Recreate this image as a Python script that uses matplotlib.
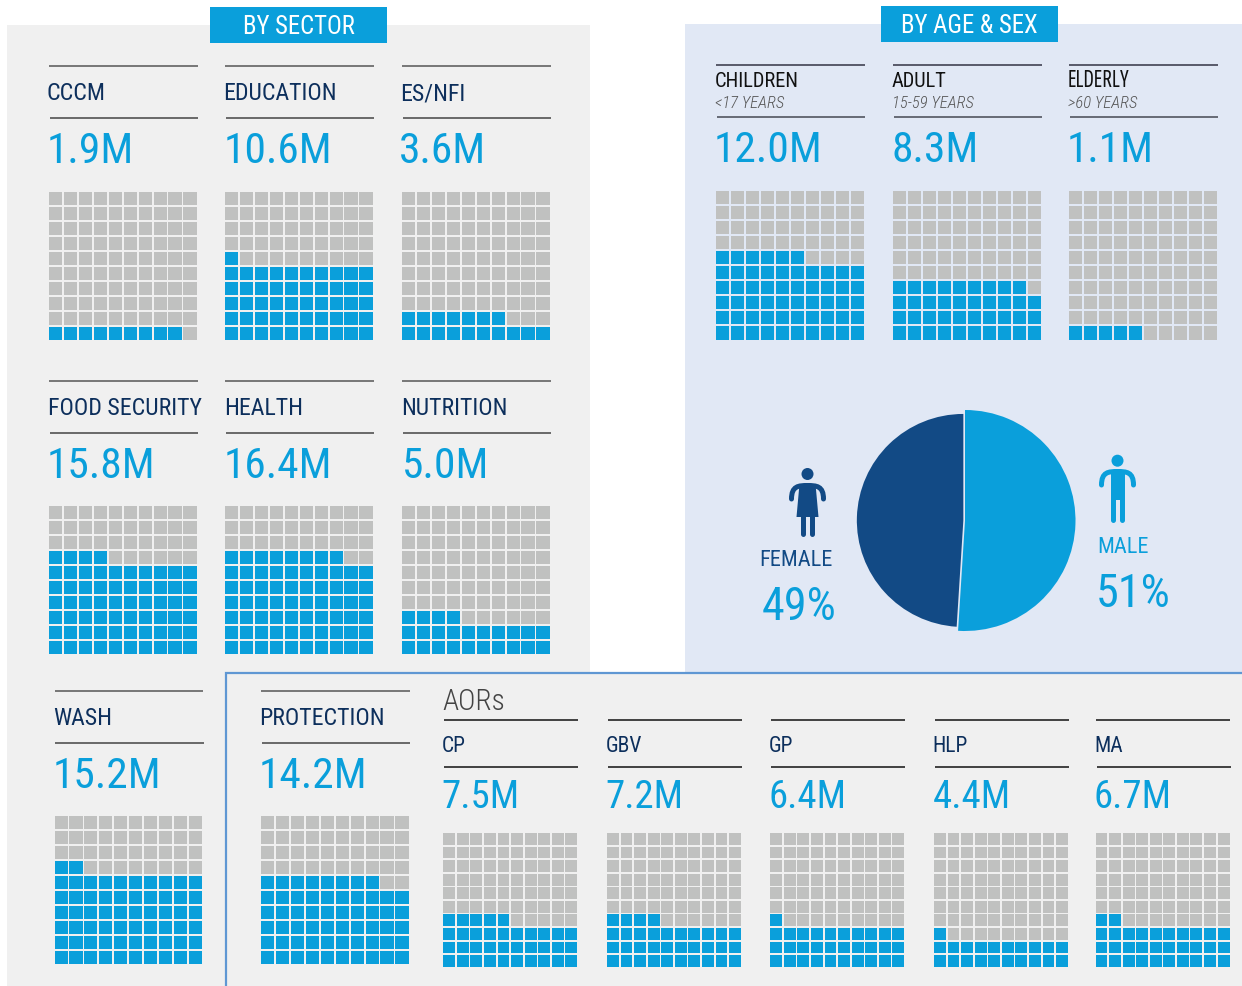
import matplotlib
matplotlib.use("Agg")
import matplotlib.pyplot as plt
from matplotlib import font_manager as fm
from matplotlib.patches import Rectangle, Circle, Polygon, PathPatch
from matplotlib.path import Path

W, H = 1242, 987
SH = 1  # shapes sit one pixel lower than the text grid

# ---------- data ----------
sector_names = ["CCCM", "EDUCATION", "ES/NFI", "FOOD SECURITY", "HEALTH", "NUTRITION", "WASH", "PROTECTION"]
sector_values = ["1.9M", "10.6M", "3.6M", "15.8M", "16.4M", "5.0M", "15.2M", "14.2M"]
sector_filled = [9, 51, 17, 64, 68, 24, 62, 58]

aor_names = ["CP", "GBV", "GP", "HLP", "MA"]
aor_values = ["7.5M", "7.2M", "6.4M", "4.4M", "6.7M"]
aor_filled = [35, 34, 31, 21, 32]

age_names = ["CHILDREN", "ADULT", "ELDERLY"]
age_ranges = ["<17 YEARS", "15-59 YEARS", ">60 YEARS"]
age_values = ["12.0M", "8.3M", "1.1M"]
age_filled = [56, 39, 5]

sex_names = ["MALE", "FEMALE"]
sex_shares = [51, 49]

# ---------- style ----------
BLUE = "#0a9fdb"
NAVY = "#124a85"
GREY = "#c0c1c0"
PANEL = "#f0f0f0"
AGE_BG = "#e1e8f5"
BORDER = "#5f97d3"
LABEL = "#0d2f5c"

avail = {f.name for f in fm.fontManager.ttflist}
COND = "Roboto Condensed" if "Roboto Condensed" in avail else "Roboto"
NARROW = "Sofia Sans Extra Condensed" if "Sofia Sans Extra Condensed" in avail else COND
plt.rcParams["font.family"] = [COND, "DejaVu Sans"]

fig = plt.figure(figsize=(W / 100, H / 100), dpi=100, facecolor="white")
bg = fig.add_axes([0, 0, 1, 1])
bg.set_xlim(0, W)
bg.set_ylim(H, 0)
bg.axis("off")


def pxaxes(x0, y0, x1, y1, z=2):
    ax = fig.add_axes([x0 / W, 1 - y1 / H, (x1 - x0) / W, (y1 - y0) / H], zorder=z)
    ax.patch.set_alpha(0)
    ax.axis("off")
    return ax


def waffle(x0, y0, x1, y1, filled):
    ax = pxaxes(x0, y0 + SH, x1, y1 + SH)
    xs, ys, cs = [], [], []
    for i in range(100):
        xs.append(i % 10 + 0.06)
        ys.append(i // 10 + 0.06)
        cs.append(BLUE if i < filled else GREY)
    ax.bar(xs, [0.88] * 100, width=0.88, bottom=ys, align="edge", color=cs, linewidth=0)
    ax.set_xlim(0.06, 9.94)
    ax.set_ylim(0.06, 9.94)


def hline(x0, x1, y, color, lw=1.1):
    bg.plot([x0, x1], [y + SH, y + SH], color=color, lw=lw, solid_capstyle="butt", zorder=3)


def txt(x, y, s, size, color, weight="regular", style="normal", ha="left", family=None):
    kw = {"family": [family, "DejaVu Sans"]} if family else {}
    bg.text(x, y, s, fontsize=size, color=color, fontweight=weight, fontstyle=style,
            ha=ha, va="baseline", zorder=4, **kw)


# ---------- panels ----------
bg.add_patch(Rectangle((7, 25 + SH), 583, H, fc=PANEL, ec="none", zorder=1))
bg.add_patch(Rectangle((685, 24 + SH), W - 685, 648, fc=AGE_BG, ec="none", zorder=1))
bg.add_patch(Rectangle((226, 673 + SH), W - 226 + 10, H - 673 + 10, fc=PANEL, ec=BORDER, lw=1.6, zorder=2))
for x0, x1, y0, y1, s in [(210, 387, 7, 43, "BY SECTOR"), (881, 1058, 6, 42, "BY AGE & SEX")]:
    bg.add_patch(Rectangle((x0, y0 + SH), x1 - x0, y1 - y0, fc=BLUE, ec="none", zorder=3))
    txt((x0 + x1) / 2, y1 - 9, s, 17.8, "white", ha="center")

# ---------- sector cards ----------
sector_pos = [(49, 66, 192), (225, 66, 192), (402, 66, 192),
              (49, 381, 506), (225, 381, 506), (402, 381, 506),
              (54.5, 691, 816), (261, 691, 816)]
sector_lab_dx = [-2.5, -1.5, -1.5, -1.5, -1, -1, -1.5, -2]
sector_val_dx = [-2, -1.5, -3, -2, -1.5, -0.5, -2, -2]
for n, v, f, (x, yl, yg), dx, vx in zip(sector_names, sector_values, sector_filled, sector_pos,
                                        sector_lab_dx, sector_val_dx):
    hline(x, x + 148.5, yl, "#555555")
    hline(x + 0.8, x + 149.3, yl + 51.5, "#444444")
    txt(x + dx, yl + 34, n, 17.2, LABEL)
    txt(x + vx, yl + 97, v, 31.3, BLUE)
    waffle(x, yg, x + 147.5, yg + 148, f)

# ---------- age cards ----------
age_x = [716, 893, 1069]
for n, r, v, f, x in zip(age_names, age_ranges, age_values, age_filled, age_x):
    hline(x, x + 148.5, 65, "#333344")
    hline(x + 0.8, x + 149.3, 117, "#666a75", lw=1.4)
    if n == "ELDERLY":
        txt(x - 1, 87, n, 18.5, "#111111", family=NARROW)
    else:
        txt(x - 1, 87, n, 14.7, "#111111")
    txt(x - 1, 108, r, 12, "#555555", style="italic", weight="light")
    txt(x - 2, 162, v, 31.3, BLUE)
    waffle(x, 191, x + 147.8, 339.5, f)

# ---------- AOR cards ----------
txt(442.5, 710, "AORs", 21.2, "#444444", weight="light")
aor_x = [443.3, 607, 770.3, 934, 1095.5]
for n, v, f, x in zip(aor_names, aor_values, aor_filled, aor_x):
    hline(x + 0.5, x + 134.5, 720, "#111111")
    hline(x + 1, x + 135, 767, "#111111")
    txt(x - 1.2, 752, n, 15.5, LABEL)
    txt(x - 1.5, 808, v, 28, BLUE)
    waffle(x, 833, x + 134, 967, f)

# ---------- pie ----------
R = 110.5
cx, cy = 965, 520.5 + SH
pie_ax = pxaxes(cx - R - 6, cy - R - 6, cx + R + 6, cy + R + 6)
wedges, _ = pie_ax.pie(sex_shares, colors=[BLUE, NAVY], startangle=90, counterclock=False,
                       explode=[0, 0.015], radius=1)
wedges[1].set_radius(106.5 / R)
lim = (R + 6) / R
pie_ax.set_xlim(-lim, lim)
pie_ax.set_ylim(-lim, lim)

txt(759, 566, sex_names[1], 16, NAVY)
txt(761.5, 620, f"{sex_shares[1]}%", 33.3, BLUE)
txt(1097.5, 553, sex_names[0], 16, BLUE)
txt(1095.5, 607, f"{sex_shares[0]}%", 33.3, BLUE)


# ---------- person icons ----------
def arms(cx, top, half, end, color):
    verts = [(cx - half, end), (cx - half, top + 3), (cx - 9, top + 2.5), (cx, top + 2.5),
             (cx + 9, top + 2.5), (cx + half, top + 3), (cx + half, end)]
    codes = [Path.MOVETO, Path.CURVE4, Path.CURVE4, Path.CURVE4, Path.CURVE4, Path.CURVE4, Path.CURVE4]
    bg.add_patch(PathPatch(Path(verts, codes), fc="none", ec=color, lw=3.6, capstyle="round", zorder=5))


def bar_leg(x0, x1, y0, y1, color):
    bg.plot([(x0 + x1) / 2] * 2, [y0, y1], color=color, lw=(x1 - x0) * 0.72,
            solid_capstyle="round", zorder=5)


# female
fx = 807.5
bg.add_patch(Circle((fx, 474 + SH), 6, fc=NAVY, ec="none", zorder=5))
arms(fx, 483 + SH, 16, 499 + SH, NAVY)
bg.add_patch(Polygon([(fx - 8, 485), (fx + 8, 485), (fx + 11, 518), (fx - 11, 518)], fc=NAVY, ec="none", zorder=5))
bar_leg(800.5, 805.5, 517, 534.5, NAVY)
bar_leg(809.5, 814.5, 517, 534.5, NAVY)

# male
mx = 1117.5
bg.add_patch(Circle((mx, 460.7 + SH), 6, fc=BLUE, ec="none", zorder=5))
arms(mx, 469 + SH, 16, 485 + SH, BLUE)
bg.add_patch(Rectangle((mx - 7, 471), 14, 30, fc=BLUE, ec="none", zorder=5))
bar_leg(1110, 1115, 499, 520.5, BLUE)
bar_leg(1119.5, 1124.5, 499, 520.5, BLUE)

fig.savefig("out.png", dpi=100, facecolor="white")
